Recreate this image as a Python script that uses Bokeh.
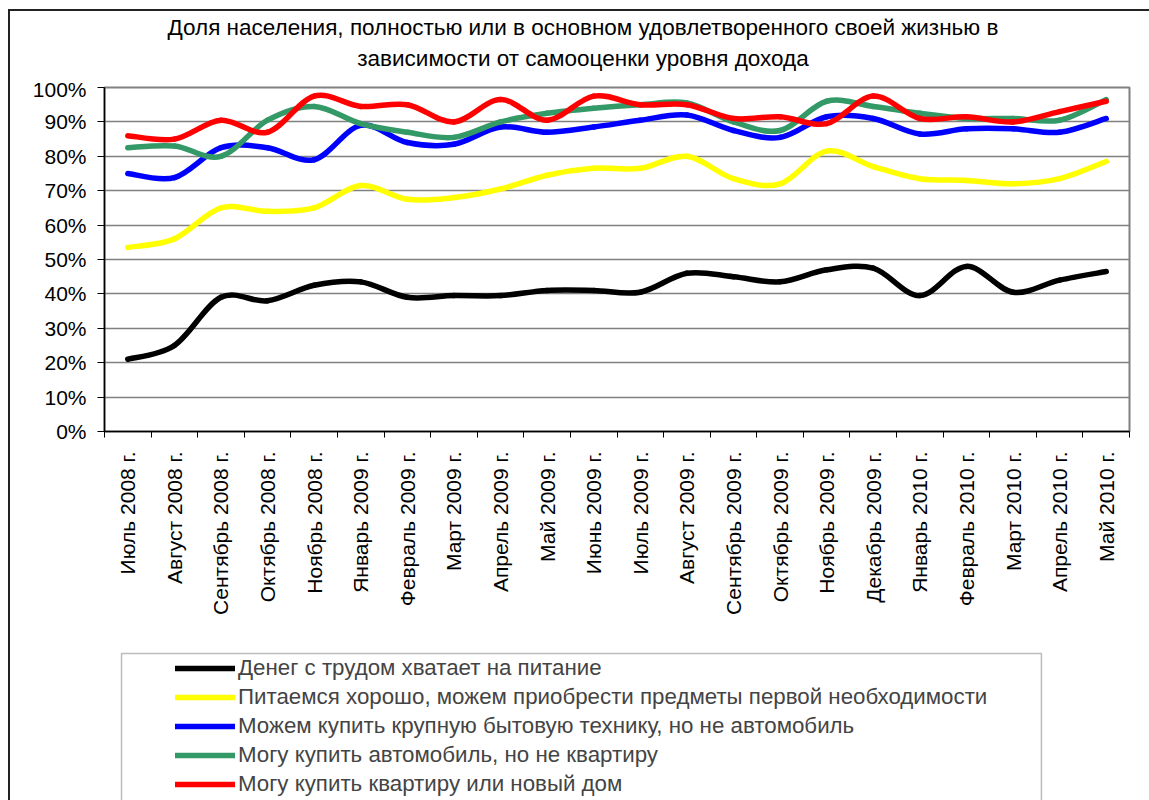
import numpy as np
from bokeh.plotting import figure
from bokeh.layouts import column
from bokeh.models import (Range1d, FixedTicker, PrintfTickFormatter, Legend, LegendItem,
                          Label, BoxAnnotation, ColumnDataSource)
from bokeh.embed import file_html
from bokeh.resources import INLINE

# ---------------- data ----------------
months = ["Июль 2008 г.", "Август 2008 г.", "Сентябрь 2008 г.", "Октябрь 2008 г.",
          "Ноябрь 2008 г.", "Январь 2009 г.", "Февраль 2009 г.", "Март 2009 г.",
          "Апрель 2009 г.", "Май 2009 г.", "Июнь 2009 г.", "Июль 2009 г.",
          "Август 2009 г.", "Сентябрь 2009 г.", "Октябрь 2009 г.", "Ноябрь 2009 г.",
          "Декабрь 2009 г.", "Январь 2010 г.", "Февраль 2010 г.", "Март 2010 г.",
          "Апрель 2010 г.", "Май 2010 г."]

hard_food = [21, 25, 39, 38, 42.5, 43.5, 39, 39.5, 39.5, 41, 41, 40.5,
             46, 45, 43.5, 47, 47.5, 39.5, 48, 40.5, 44, 46.5]
eat_well = [53.5, 56, 65, 64, 65, 71.5, 67.5, 68, 70.5, 74.5, 76.5, 76.5,
            80, 73.5, 72, 81.5, 77, 73.5, 73, 72, 73.5, 78.5]
appliances = [75, 73.8, 82.5, 82.5, 79, 89, 84, 83.5, 88.5, 87, 88.5, 90.5,
              92, 87.5, 85.5, 91.5, 91, 86.5, 88, 88, 87, 91]
car = [82.5, 83, 80, 90.5, 94.5, 89.5, 87, 85.5, 90, 92.5, 94, 95,
       95.5, 90, 87.5, 96, 94.5, 92.5, 91, 91, 90.5, 96.5]
flat = [86, 85, 90.5, 87, 97.5, 94.5, 95, 90, 96.5, 90.5, 97.5, 95,
        95, 91, 91.5, 89.5, 97.5, 91, 91.5, 90, 93, 96]

series_names = ["Денег с трудом хватает на питание",
                "Питаемся хорошо, можем приобрести предметы первой необходимости",
                "Можем купить крупную бытовую технику, но не автомобиль",
                "Могу купить автомобиль, но не квартиру",
                "Могу купить квартиру или новый дом"]
series_values = [hard_food, eat_well, appliances, car, flat]
series_colors = ["#000000", "#FFFF00", "#0000FF", "#339966", "#FF0000"]

title_lines = ["Доля населения, полностью или в основном удовлетворенного своей жизнью в",
               "зависимости от самооценки уровня дохода"]

FONT = "Liberation Sans"
W = 1139          # content width (inside the chart-area border)
H_TITLE = 66
H_MAIN = 563
H_LEG = 160
FX0, FX1 = 104, 1128   # horizontal extent of the (aligned) plot frames, page px


def bare(height):
    f = figure(width=W, height=height, output_backend="svg", toolbar_location=None,
               x_range=Range1d(FX0, FX1), y_range=Range1d(0, height),
               min_border=0, x_axis_location=None, y_axis_location=None,
               background_fill_color="white", border_fill_color="white")
    f.outline_line_color = None
    f.xgrid.grid_line_color = None
    f.ygrid.grid_line_color = None
    return f


# ---------------- title part ----------------
t = bare(H_TITLE)
for txt, yy in zip(title_lines, [50, 19]):
    t.add_layout(Label(x=582, y=yy, text=txt, text_align="center",
                       text_baseline="middle", text_font=FONT,
                       text_font_size="22.5px", text_color="black"))

# ---------------- main figure ----------------
n = len(months)
p = figure(width=W, height=H_MAIN, output_backend="svg", toolbar_location=None,
           x_range=Range1d(-0.5, n - 0.5), y_range=Range1d(0, 100),
           min_border_left=94, min_border_right=20, min_border_top=10,
           min_border_bottom=209, background_fill_color="white",
           border_fill_color="white")

p.outline_line_color = "#808080"
p.outline_line_width = 2

# x axis: labels at category centres, tick marks at category boundaries
p.xaxis.ticker = FixedTicker(ticks=list(range(n)),
                             minor_ticks=[i - 0.5 for i in range(n + 1)])
p.xaxis.major_label_overrides = {i: m for i, m in enumerate(months)}
p.xaxis.major_label_orientation = np.pi / 2
p.xaxis.major_tick_line_color = None
p.xaxis.major_tick_out = 0
p.xaxis.major_tick_in = 0
p.xaxis.minor_tick_out = 6
p.xaxis.minor_tick_in = 0
p.xaxis.minor_tick_line_color = "black"
p.xaxis.minor_tick_line_width = 1
p.xaxis.axis_line_color = "black"
p.xaxis.axis_line_width = 1.5
p.xaxis.major_label_standoff = 14
p.xaxis.major_label_text_font = FONT
p.xaxis.major_label_text_font_size = "21px"
p.xaxis.major_label_text_color = "black"

# y axis
p.yaxis.ticker = FixedTicker(ticks=list(range(0, 101, 10)))
p.yaxis.formatter = PrintfTickFormatter(format="%d%%")
p.yaxis.minor_tick_line_color = None
p.yaxis.major_tick_out = 7
p.yaxis.major_tick_in = 0
p.yaxis.major_tick_line_color = "black"
p.yaxis.axis_line_color = "black"
p.yaxis.axis_line_width = 1.5
p.yaxis.major_label_standoff = 11
p.yaxis.major_label_text_font = FONT
p.yaxis.major_label_text_font_size = "21px"
p.yaxis.major_label_text_color = "black"

p.xgrid.grid_line_color = None
p.ygrid.ticker = FixedTicker(ticks=list(range(0, 101, 10)))
p.ygrid.grid_line_color = "#808080"
p.ygrid.grid_line_width = 1.5

# ---------------- smoothed lines (Bezier segments, like Excel smoothing) ----------------
xs = np.arange(n, dtype=float)
for vals, col in zip(series_values, series_colors):
    y = np.asarray(vals, dtype=float)
    xp = np.concatenate([[xs[0]], xs, [xs[-1]]])
    yp = np.concatenate([[y[0]], y, [y[-1]]])
    i = np.arange(n - 1)
    src = ColumnDataSource(dict(
        x0=xs[:-1], y0=y[:-1], x1=xs[1:], y1=y[1:],
        cx0=xp[i + 1] + (xp[i + 2] - xp[i]) / 6.0,
        cy0=yp[i + 1] + (yp[i + 2] - yp[i]) / 6.0,
        cx1=xp[i + 2] - (xp[i + 3] - xp[i + 1]) / 6.0,
        cy1=yp[i + 2] - (yp[i + 3] - yp[i + 1]) / 6.0,
    ))
    p.bezier(x0="x0", y0="y0", x1="x1", y1="y1", cx0="cx0", cy0="cy0",
             cx1="cx1", cy1="cy1", source=src, line_color=col, line_width=5.5,
             line_cap="round", line_join="round")

# ---------------- legend part ----------------
q = bare(H_LEG)
items = []
for name, col in zip(series_names, series_colors):
    # legend proxy (one undefined point, nothing drawn in the frame)
    r = q.line(x=np.array([np.nan]), y=np.array([np.nan]), line_color=col,
               line_width=5.5, line_cap="round")
    items.append(LegendItem(label=name, renderers=[r]))

legend = Legend(items=items, location=(71, 3), orientation="vertical",
                border_line_color=None, background_fill_alpha=0,
                label_text_font=FONT, label_text_font_size="22.3px",
                glyph_width=60, glyph_height=24, label_height=24,
                spacing=3, padding=0, margin=0, label_standoff=3)
q.add_layout(legend)

q.add_layout(BoxAnnotation(left=121, right=1040, top=147, bottom=-20,
                           fill_alpha=0, line_color="#222222", line_width=1.5))

layout = column(t, p, q, spacing=0,
                styles={"margin-left": "8px", "margin-top": "9px",
                        "border-left": "2px solid #222222",
                        "border-top": "2px solid #222222"})

open("out.html", "w").write(file_html(layout, INLINE))
